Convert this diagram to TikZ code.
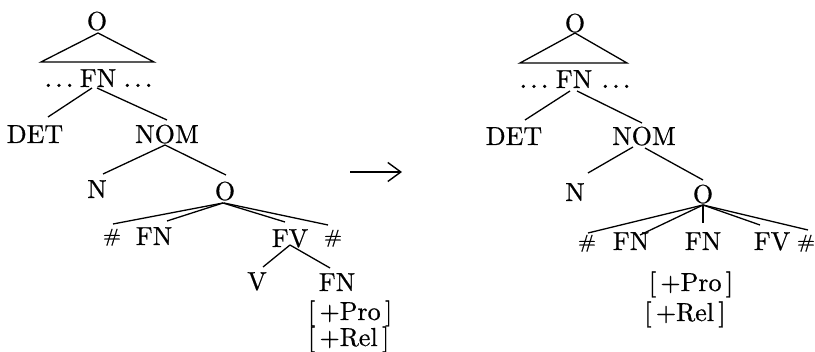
\documentclass[tikz,border=0pt]{standalone}
\usepackage{fontspec}
\setmainfont{lmroman10-regular.otf}[FakeBold=0.6]
\usetikzlibrary{calc,arrows.meta}
\newcommand{\mydots}{{\fontsize{30}{30}\selectfont.\kern2.3pt.\kern2.3pt.}}
\begin{document}
\begin{tikzpicture}[x=1pt,y=-1pt,
  every node/.style={inner sep=0pt, outer sep=0pt, anchor=base, font=\fontsize{26}{30}\selectfont},
  branch/.style={line width=1.3pt},
  hashsym/.style={font=\fontsize{19}{20}\selectfont},
]
\useasboundingbox (0,0) rectangle (815,352);
% ---------- left tree ----------
\node (lO) at (97,30) {O};
\node (lFN) at (98,87) {FN};
\node (ldl) at (59,87) {\mydots};
\node (ldr) at (138,87) {\mydots};
\node (lDET) at (35,143) {DET};
\node (lNOM) at (167,143) {NOM};
\node (lN) at (97,198) {N};
\node (lO2) at (225,200) {O};
\node[hashsym] (lH1) at (112,242) {\scalebox{1.15}[1]{\#}};
\node (lFN2) at (154,245) {FN};
\node (lFV) at (290,247) {FV};
\node[hashsym] (lH2) at (333,243) {\scalebox{1.15}[1]{\#}};
\node (lV) at (257,290) {V};
\node (lFN3) at (337,291) {FN};
\node[anchor=base west] (lPro) at (308,320) {[\,+Pro\,]};
\node[anchor=base west] (lRel) at (308,346) {[\,+Rel\,]};

\draw[branch] ($(lO.base)+(1,3)$) -- ++(-57,29) -- ++(113,0) -- cycle;
\draw[branch] ($(lFN.base)+(-6,1)$) -- ($(lDET.base)+(13,-26)$);
\draw[branch] ($(lFN.base)+(-1,1)$) -- ($(lNOM.base)+(0,-23)$);
\draw[branch] ($(lNOM.base)+(-2,2)$) -- ($(lN.base)+(6,-24)$);
\draw[branch] ($(lNOM.base)+(-2,2)$) -- ($(lO2.base)+(1,-25)$);
\draw[branch] ($(lO2.base)+(-2,3)$) -- ($(lH1.base)+(1,-18)$);
\draw[branch] ($(lO2.base)+(-2,3)$) -- ($(lFN2.base)+(13,-24)$);
\draw[branch] ($(lO2.base)+(-2,3)$) -- ($(lFV.base)+(-5,-25)$);
\draw[branch] ($(lO2.base)+(-1,3)$) -- ($(lH2.base)+(-5,-18)$);
\draw[branch] ($(lFV.base)+(0,-2)$) -- ($(lV.base)+(6,-23)$);
\draw[branch] ($(lFV.base)+(0,-2)$) -- ($(lFN3.base)+(-7,-23)$);

% ---------- arrow ----------
\coordinate (aS) at (350,172);
\coordinate (aE) at (402,172);
\draw[line width=1.4pt,-{Straight Barb[length=13pt,width=19pt]}] (aS) -- (aE);

% ---------- right tree ----------
\node (rO) at (575,32) {O};
\node (rFN) at (574,88) {FN};
\node (rdl) at (534,88) {\mydots};
\node (rdr) at (616,88) {\mydots};
\node (rDET) at (514,145) {DET};
\node (rNOM) at (644,145) {NOM};
\node (rN) at (575,201) {N};
\node (rO2) at (703,203) {O};
\node[hashsym] (rH1) at (587,248) {\scalebox{1.15}[1]{\#}};
\node (rFNa) at (631,250) {FN};
\node (rFNb) at (703,250) {FN};
\node (rFV) at (772,250) {FV};
\node[hashsym] (rH2) at (806,248) {\scalebox{1.15}[1]{\#}};
\node (rPro) at (691,291) {[\,+Pro\,]};
\node (rRel) at (685,321) {[\,+Rel\,]};

\draw[branch] ($(rO.base)+(0,1)$) -- ++(-55,30) -- ++(107,0) -- cycle;
\draw[branch] ($(rFN.base)+(-4,3)$) -- ($(rDET.base)+(11,-25)$);
\draw[branch] ($(rFN.base)+(3,3)$) -- ($(rNOM.base)+(-2,-22)$);
\draw[branch] ($(rNOM.base)+(-11,2)$) -- ($(rN.base)+(13,-28)$);
\draw[branch] ($(rNOM.base)+(1,3)$) -- ($(rO2.base)+(0,-23)$);
\draw[branch] ($(rO2.base)+(0,2)$) -- ($(rH1.base)+(1,-15)$);
\draw[branch] ($(rO2.base)+(0,2)$) -- ($(rFNa.base)+(9,-15)$);
\draw[branch] ($(rO2.base)+(0,2)$) -- ($(rFNb.base)+(0,-27)$);
\draw[branch] ($(rO2.base)+(0,2)$) -- ($(rFV.base)+(-12,-25)$);
\draw[branch] ($(rO2.base)+(0,2)$) -- ($(rH2.base)+(2,-18)$);
\end{tikzpicture}
\end{document}
